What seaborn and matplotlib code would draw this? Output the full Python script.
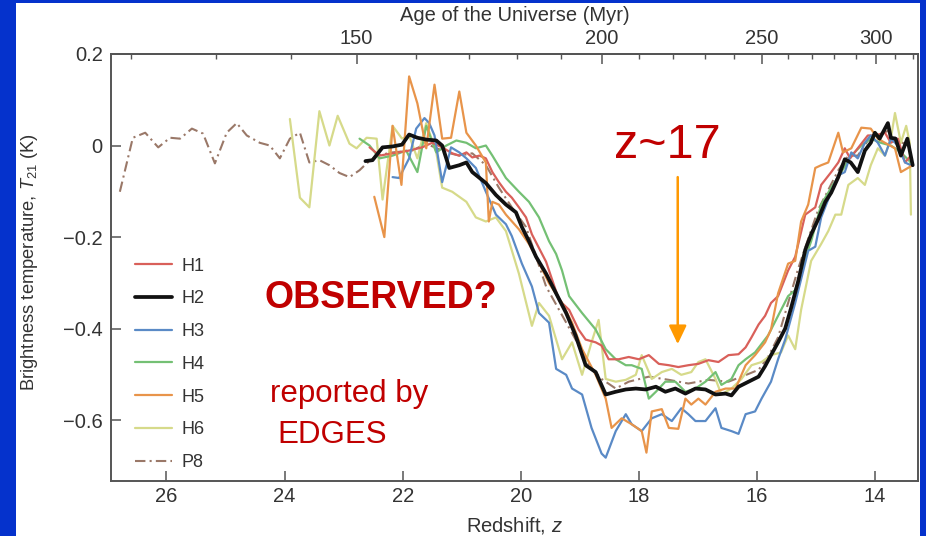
import numpy as np
import pandas as pd
import matplotlib
matplotlib.use("Agg")
import matplotlib.pyplot as plt
import seaborn as sns
from matplotlib.patches import Rectangle
from matplotlib.ticker import FixedLocator

# ---------------- data (redshift z, brightness temperature T21 in K) ----------------
h1 = [(22.56,-0.004),(22.39,-0.022),(22.17,-0.017),(21.89,-0.011),(21.67,-0.004),(21.50,0.006),
      (21.33,-0.004),(21.16,-0.017),(21.04,-0.022),(20.92,-0.015),(20.82,-0.026),(20.70,-0.022),
      (20.59,-0.028),(20.48,-0.058),(20.37,-0.080),(20.25,-0.101),(20.15,-0.114),(20.03,-0.135),
      (19.91,-0.157),(19.81,-0.194),(19.57,-0.254),(19.35,-0.338),(19.18,-0.359),(19.02,-0.402),
      (18.90,-0.424),(18.73,-0.430),(18.63,-0.437),(18.51,-0.467),(18.34,-0.467),(18.17,-0.462),
      (18.00,-0.467),(17.83,-0.458),(17.66,-0.477),(17.49,-0.480),(17.33,-0.484),(17.16,-0.480),
      (16.99,-0.477),(16.82,-0.469),(16.65,-0.473),(16.48,-0.458),(16.31,-0.456),(16.19,-0.441),
      (16.09,-0.419),(15.97,-0.391),(15.86,-0.372),(15.76,-0.344),(15.64,-0.329),(15.47,-0.273),
      (15.35,-0.243),(15.18,-0.151),(15.01,-0.135),(14.91,-0.086),(14.74,-0.058),(14.62,-0.037),
      (14.51,-0.006),(14.42,-0.028),(14.29,-0.006),(14.12,0.022),(14.00,0.022),(13.83,0.028),
      (13.73,0.006),(13.61,0.015),(13.49,-0.037),(13.39,-0.022)]

h2 = [(22.63,-0.034),(22.51,-0.032),(22.34,-0.004),(22.17,-0.002),(22.01,0.002),(21.89,0.024),
      (21.75,0.017),(21.60,0.013),(21.43,0.011),(21.33,0.000),(21.21,-0.049),(21.04,-0.043),
      (20.92,-0.037),(20.82,-0.058),(20.59,-0.082),(20.42,-0.108),(20.25,-0.129),(20.08,-0.146),
      (19.98,-0.178),(19.86,-0.209),(19.74,-0.243),(19.57,-0.280),(19.40,-0.323),(19.23,-0.366),
      (19.07,-0.415),(18.90,-0.480),(18.73,-0.495),(18.56,-0.544),(18.39,-0.538),(18.22,-0.533),
      (18.05,-0.531),(17.88,-0.533),(17.71,-0.527),(17.55,-0.538),(17.38,-0.531),(17.21,-0.542),
      (17.04,-0.531),(16.87,-0.533),(16.70,-0.544),(16.53,-0.542),(16.43,-0.546),(16.31,-0.527),
      (16.14,-0.516),(15.97,-0.505),(15.86,-0.482),(15.76,-0.458),(15.64,-0.430),(15.52,-0.400),
      (15.42,-0.355),(15.30,-0.297),(15.18,-0.228),(15.08,-0.194),(14.96,-0.161),(14.84,-0.123),
      (14.74,-0.103),(14.62,-0.069),(14.51,-0.030),(14.41,-0.037),(14.29,-0.058),(14.17,-0.011),
      (14.07,0.006),(14.00,0.028),(13.92,0.015),(13.83,0.037),(13.78,0.049),(13.73,0.017),
      (13.65,0.015),(13.56,-0.022),(13.45,0.015),(13.36,-0.043)]

h3 = [(22.17,-0.069),(22.06,-0.071),(21.89,-0.028),(21.77,0.037),(21.63,0.060),(21.55,0.049),
      (21.46,0.022),(21.33,-0.080),(21.18,-0.004),(21.04,-0.015),(20.92,-0.028),(20.76,-0.049),
      (20.59,-0.101),(20.42,-0.151),(20.25,-0.172),(20.15,-0.198),(19.98,-0.258),(19.81,-0.308),
      (19.69,-0.366),(19.52,-0.387),(19.40,-0.488),(19.23,-0.501),(19.13,-0.531),(18.96,-0.544),
      (18.80,-0.617),(18.63,-0.673),(18.56,-0.682),(18.39,-0.624),(18.22,-0.587),(18.12,-0.609),
      (17.95,-0.624),(17.78,-0.596),(17.61,-0.587),(17.44,-0.602),(17.28,-0.574),(17.16,-0.587),
      (17.04,-0.602),(16.87,-0.602),(16.70,-0.574),(16.60,-0.617),(16.43,-0.624),(16.31,-0.630),
      (16.19,-0.587),(16.03,-0.581),(15.92,-0.553),(15.76,-0.516),(15.64,-0.467),(15.52,-0.424),
      (15.35,-0.344),(15.13,-0.230),(15.01,-0.221),(14.91,-0.157),(14.74,-0.101),(14.62,-0.065),
      (14.51,-0.058),(14.40,-0.015),(14.29,-0.028),(14.17,0.006),(14.07,0.022),(13.95,0.006),
      (13.83,-0.022),(13.73,0.015),(13.61,0.000),(13.49,-0.037),(13.39,-0.043)]

h4 = [(22.73,0.015),(22.56,0.000),(22.39,-0.028),(22.17,-0.022),(21.94,-0.011),(21.75,-0.058),
      (21.60,0.043),(21.43,-0.015),(21.26,0.000),(21.09,0.011),(20.92,0.006),(20.76,-0.006),
      (20.59,0.000),(20.48,-0.022),(20.25,-0.071),(20.03,-0.101),(19.86,-0.123),(19.69,-0.157),
      (19.52,-0.209),(19.40,-0.237),(19.30,-0.273),(19.18,-0.329),(18.96,-0.366),(18.73,-0.402),
      (18.56,-0.445),(18.39,-0.467),(18.22,-0.480),(18.12,-0.480),(17.95,-0.488),(17.83,-0.553),
      (17.71,-0.538),(17.55,-0.516),(17.38,-0.516),(17.21,-0.538),(17.04,-0.531),(16.87,-0.516),
      (16.70,-0.495),(16.60,-0.523),(16.43,-0.510),(16.31,-0.480),(16.19,-0.467),(16.03,-0.452),
      (15.81,-0.415),(15.64,-0.372),(15.47,-0.329),(15.35,-0.316),(15.25,-0.273),(15.08,-0.209),
      (14.91,-0.129),(14.74,-0.092),(14.57,-0.058),(14.40,-0.022),(14.23,0.000),(14.07,0.015),
      (13.90,0.006),(13.73,0.000),(13.56,-0.015),(13.39,-0.037)]

h5 = [(22.48,-0.112),(22.31,-0.200),(22.17,0.043),(22.02,-0.086),(21.89,0.151),(21.75,0.092),
      (21.60,-0.006),(21.46,0.133),(21.33,0.015),(21.18,0.017),(21.04,0.118),(20.92,0.028),
      (20.76,0.000),(20.59,-0.037),(20.54,-0.166),(20.48,-0.123),(20.37,-0.129),(20.25,-0.151),
      (20.03,-0.183),(19.86,-0.215),(19.74,-0.243),(19.52,-0.301),(19.30,-0.344),(19.13,-0.387),
      (18.96,-0.445),(18.73,-0.501),(18.56,-0.553),(18.46,-0.617),(18.29,-0.596),(18.12,-0.609),
      (17.95,-0.624),(17.87,-0.671),(17.78,-0.581),(17.61,-0.576),(17.49,-0.617),(17.33,-0.619),
      (17.21,-0.553),(17.11,-0.566),(16.99,-0.553),(16.87,-0.566),(16.70,-0.538),(16.53,-0.531),
      (16.36,-0.531),(16.19,-0.480),(16.03,-0.458),(15.86,-0.430),(15.76,-0.402),(15.64,-0.323),
      (15.47,-0.258),(15.35,-0.252),(15.25,-0.166),(15.13,-0.129),(15.01,-0.049),(14.91,-0.043),
      (14.79,-0.037),(14.62,0.028),(14.54,-0.015),(14.40,-0.006),(14.23,0.039),(14.07,0.037),
      (13.95,0.015),(13.83,0.006),(13.66,-0.006),(13.56,-0.058),(13.44,-0.049),(13.36,-0.043)]

h6 = [(23.91,0.058),(23.74,-0.114),(23.58,-0.135),(23.41,0.075),(23.24,0.000),(23.10,0.065),
      (22.90,0.004),(22.78,-0.006),(22.61,0.017),(22.44,0.015),(22.34,-0.118),(22.17,0.043),
      (22.01,0.015),(21.89,0.022),(21.75,-0.028),(21.60,0.049),(21.43,-0.015),(21.33,-0.092),
      (21.16,-0.101),(20.92,-0.123),(20.76,-0.157),(20.59,-0.166),(20.42,-0.157),(20.25,-0.187),
      (20.03,-0.280),(19.81,-0.394),(19.69,-0.344),(19.52,-0.372),(19.30,-0.467),(19.13,-0.430),
      (18.96,-0.501),(18.80,-0.430),(18.68,-0.381),(18.56,-0.510),(18.39,-0.516),(18.22,-0.512),
      (18.05,-0.501),(17.95,-0.458),(17.78,-0.510),(17.61,-0.495),(17.44,-0.488),(17.28,-0.501),
      (17.11,-0.495),(16.99,-0.473),(16.87,-0.467),(16.70,-0.510),(16.60,-0.544),(16.43,-0.531),
      (16.26,-0.510),(16.09,-0.480),(15.92,-0.473),(15.76,-0.458),(15.59,-0.452),(15.47,-0.415),
      (15.35,-0.445),(15.25,-0.359),(15.08,-0.252),(14.91,-0.215),(14.79,-0.187),(14.67,-0.151),
      (14.57,-0.151),(14.45,-0.086),(14.29,-0.071),(14.17,-0.086),(14.07,-0.043),(13.95,-0.006),
      (13.83,-0.022),(13.73,0.015),(13.66,0.071),(13.56,0.006),(13.47,0.043),(13.41,0.006),
      (13.39,-0.151)]

p8 = [(26.79,-0.101),(26.57,0.017),(26.36,0.028),(26.14,-0.004),(25.94,0.017),(25.77,0.015),
      (25.57,0.037),(25.38,0.026),(25.18,-0.039),(24.98,0.028),(24.81,0.049),(24.64,0.022),
      (24.42,0.006),(24.25,0.000),(24.08,-0.028),(23.91,0.015),(23.74,0.028),(23.58,-0.037),
      (23.41,-0.032),(23.24,-0.043),(23.07,-0.060),(22.90,-0.069),(22.73,-0.054),(22.61,-0.039),
      (22.44,-0.022),(22.17,-0.015),(21.84,-0.011),(21.60,0.004),(21.26,-0.015),(21.04,-0.022),
      (20.82,-0.017),(20.59,-0.043),(20.37,-0.092),(20.15,-0.135),(19.91,-0.178),(19.57,-0.308),
      (19.35,-0.359),(19.07,-0.424),(18.85,-0.480),(18.63,-0.510),(18.39,-0.531),(18.17,-0.516),
      (17.83,-0.505),(17.49,-0.512),(17.16,-0.520),(16.82,-0.512),(16.48,-0.516),(16.14,-0.499),
      (15.97,-0.490),(15.81,-0.462),(15.64,-0.419),(15.47,-0.344),(15.30,-0.269),(15.13,-0.204),
      (14.96,-0.140),(14.79,-0.097),(14.62,-0.054),(14.45,-0.022),(14.29,-0.022),(14.12,0.011),
      (13.95,0.022),(13.78,0.032),(13.61,0.011),(13.44,0.000)]

series_names = ["H1", "H2", "H3", "H4", "H5", "H6", "P8"]
z_ticks = [26, 24, 22, 20, 18, 16, 14]
t_ticks = [0.2, 0.0, -0.2, -0.4, -0.6]
t_labels = ["0.2", "0", "\u22120.2", "\u22120.4", "\u22120.6"]
age_major = [150, 200, 250, 300]
age_minor = list(range(110, 330, 10))

# ---------------- style ----------------
sns.set_style("white")
plt.rcParams["font.family"] = ["Liberation Sans", "DejaVu Sans"]
plt.rcParams["mathtext.fontset"] = "custom"
plt.rcParams["mathtext.rm"] = "Liberation Sans"
plt.rcParams["mathtext.it"] = "Liberation Sans:italic"

styles = {
    "H1": dict(color="#d9605a", lw=1.6, ls="-", z=4),
    "H2": dict(color="#111111", lw=2.7, ls="-", z=8),
    "H3": dict(color="#5a8ac6", lw=1.6, ls="-", z=5),
    "H4": dict(color="#74c074", lw=1.6, ls="-", z=3),
    "H5": dict(color="#e8944a", lw=1.6, ls="-", z=6),
    "H6": dict(color="#d6da8a", lw=1.6, ls="-", z=2),
    "P8": dict(color="#9a7868", lw=1.5, ls=(0, (5, 2, 1, 2)), z=1),
}
data = {"H1": h1, "H2": h2, "H3": h3, "H4": h4, "H5": h5, "H6": h6, "P8": p8}

frames = []
for name in series_names:
    arr = np.array(data[name])
    frames.append(pd.DataFrame({"z": arr[:, 0], "T": arr[:, 1], "series": name}))
df = pd.concat(frames, ignore_index=True)

fig = plt.figure(figsize=(9.26, 5.36), dpi=100, facecolor="#0532cc")
bg = Rectangle((16 / 926, 0), (920 - 16) / 926, 533 / 536,
               transform=fig.transFigure, facecolor="white", edgecolor="none", zorder=-100)
fig.add_artist(bg)
ax = fig.add_axes([111 / 926, 55 / 536, 807 / 926, 427 / 536])
ax.set_zorder(5)
ax.set_facecolor("white")

for name in series_names:
    st = styles[name]
    sub = df[df["series"] == name]
    sns.lineplot(data=sub, x="z", y="T", ax=ax, color=st["color"], linewidth=st["lw"],
                 linestyle=st["ls"], label=name, sort=False, zorder=st["z"],
                 estimator=None)

ax.set_xlim(26.94, 13.27)
ax.set_ylim(-0.733, 0.2)
ax.set_xticks(z_ticks)
ax.set_xticklabels([str(v) for v in z_ticks])
ax.set_yticks(t_ticks)
ax.set_yticklabels(t_labels)

fs = 14.5
spine_c = "#555555"
for s in ax.spines.values():
    s.set_color(spine_c)
    s.set_linewidth(1.4)
    s.set_visible(True)
ax.tick_params(axis="both", which="major", direction="in", length=7, width=1.1,
               color=spine_c, labelsize=fs, labelcolor="#333333",
               top=False, right=False, bottom=True, left=True)
ax.tick_params(axis="x", pad=4)
ax.tick_params(axis="y", pad=6)
ax.set_xlabel("Redshift, $z$", fontsize=fs, color="#333333", labelpad=7)
ax.set_ylabel("Brightness temperature, $T_{21}$ (K)", fontsize=13.2, color="#333333")
ax.yaxis.set_label_coords(-0.088, 0.513)

C_AGE = 17394.0
def z2t(z):
    z = np.asarray(z, dtype=float)
    return C_AGE * np.power(np.clip(1 + z, 1e-3, None), -1.5)
def t2z(t):
    t = np.asarray(t, dtype=float)
    return np.power(C_AGE / np.clip(t, 1e-3, None), 2.0 / 3.0) - 1

sec = ax.secondary_xaxis("top", functions=(z2t, t2z))
sec.set_xticks(age_major)
sec.set_xticklabels([str(v) for v in age_major])
sec.xaxis.set_minor_locator(FixedLocator(age_minor))
sec.tick_params(which="major", direction="in", length=7, width=1.1, color=spine_c,
                labelsize=fs, labelcolor="#333333", pad=4)
sec.tick_params(which="minor", direction="in", length=3.5, width=1.0, color=spine_c)
sec.spines["top"].set_color(spine_c)
sec.spines["top"].set_linewidth(1.4)
sec.set_xlabel("Age of the Universe (Myr)", fontsize=fs, color="#333333", labelpad=6)

handles, labels = ax.get_legend_handles_labels()
order = [labels.index(n) for n in series_names]
leg = ax.legend([handles[i] for i in order], [labels[i] for i in order],
                loc="upper left", bbox_to_anchor=(0.03, 0.523), frameon=False,
                fontsize=13, handlelength=2.05, handletextpad=0.5,
                labelspacing=0.87, borderpad=0, borderaxespad=0)
for t in leg.get_texts():
    t.set_color("#333333")

red = "#c00000"
fig.text(381 / 926, 1 - 308 / 536, "OBSERVED?", ha="center", va="baseline",
         fontsize=27, fontweight="bold", color=red, zorder=20)
fig.text(270 / 926, 1 - 402 / 536, "reported by", ha="left", va="baseline",
         fontsize=22.5, color=red, zorder=20)
fig.text(277 / 926, 1 - 443 / 536, "EDGES", ha="left", va="baseline",
         fontsize=22.5, color=red, zorder=20)
fig.text(667 / 926, 1 - 158 / 536, "z~17", ha="center", va="baseline",
         fontsize=35, color=red, zorder=20)

ax.annotate("", xy=(17.34, -0.434), xytext=(17.34, -0.069),
            arrowprops=dict(arrowstyle="-|>,head_length=0.8,head_width=0.38",
                            color="#ff9900", lw=1.8, mutation_scale=14,
                            shrinkA=0, shrinkB=0), zorder=10)

fig.savefig("out.png", dpi=100, facecolor=fig.get_facecolor())
